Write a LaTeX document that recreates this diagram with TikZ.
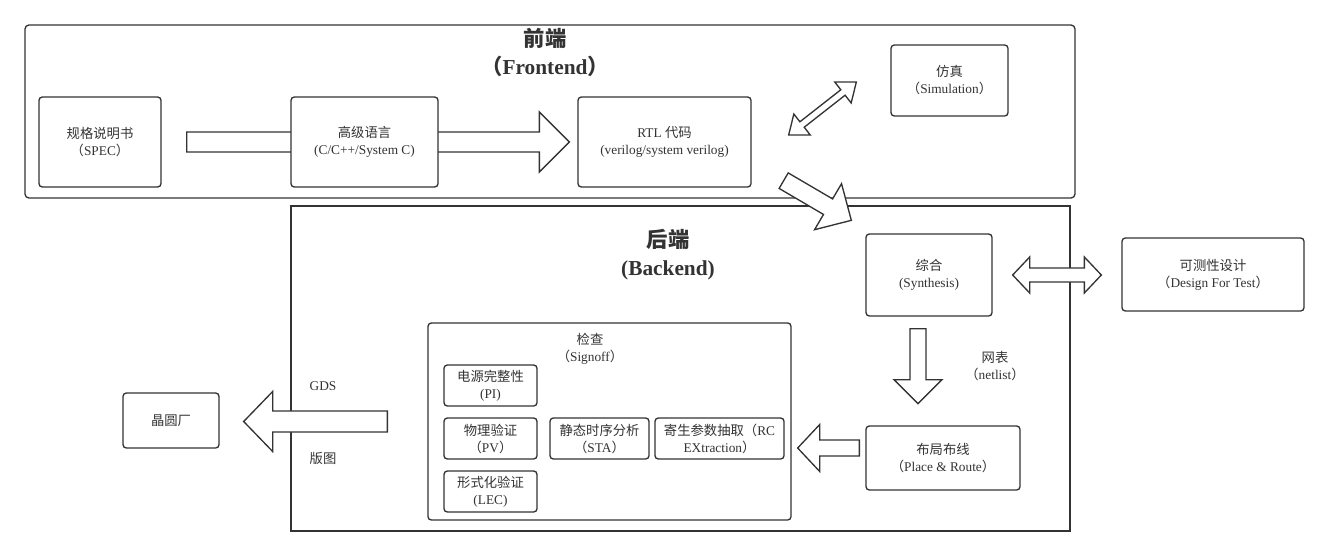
\documentclass[tikz,border=0pt]{standalone}
\usepackage{fontspec}
\setmainfont{Liberation Serif}
\newfontfamily\cjk{Noto Sans CJK SC}
\usetikzlibrary{calc}
\pgfdeclarelayer{frames}
\pgfdeclarelayer{arrows}
\pgfsetlayers{frames,arrows,main}
\definecolor{flowink}{HTML}{333333}
\definecolor{flowtext}{HTML}{333333}
\newcommand{\zh}[1]{{\cjk #1}}
\newcommand{\blockarrow}[5]{%
  \path ($(#2)!#5!(#1)$) coordinate (bahead);
  \draw[bigarrow] ($(#1)!#3!90:(#2)$) -- ($(bahead)!#3!90:(#2)$) -- ($(bahead)!#4!90:(#2)$) -- (#2)
    -- ($(bahead)!#4!-90:(#2)$) -- ($(bahead)!#3!-90:(#2)$) -- ($(#1)!#3!-90:(#2)$) -- cycle;
}
\newcommand{\dblarrow}[5]{%
  \path ($(#1)!#5!(#2)$) coordinate (dbtail) ($(#2)!#5!(#1)$) coordinate (dbhead);
  \draw[bigarrow] (#1) -- ($(dbtail)!#4!90:(#2)$) -- ($(dbtail)!#3!90:(#2)$) -- ($(dbhead)!#3!90:(#2)$)
    -- ($(dbhead)!#4!90:(#2)$) -- (#2) -- ($(dbhead)!#4!-90:(#2)$) -- ($(dbhead)!#3!-90:(#2)$)
    -- ($(dbtail)!#3!-90:(#2)$) -- ($(dbtail)!#4!-90:(#2)$) -- cycle;
}

\begin{document}
\begin{tikzpicture}[
  x=0.75pt,
  y=-0.75pt,
  every node/.style={font=\fontsize{10}{12.75}\selectfont, text=flowtext, align=center},
  frame/.style={draw=flowink, line width=1pt},
  box/.style={draw=flowink, line width=1pt, rounded corners=2.5pt, fill=white, inner sep=0pt},
  bigarrow/.style={draw=flowink, line width=1pt, fill=white, line join=miter},
  heading/.style={font=\fontsize{16}{21}\selectfont\bfseries}
]
  \useasboundingbox (0,0) rectangle (1328,557);

  \begin{pgfonlayer}{frames}
    \draw[frame, rounded corners=3pt] (25,25) rectangle (1075,198);
    \draw[frame] (291,206) rectangle (1070,531);
  \end{pgfonlayer}
  \node[heading] (fetitle) at (545,52) {\zh{前端}\\\zh{（}Frontend\zh{）}};
  \node[heading] (betitle) at (668,254.5) {\zh{后端}\\(Backend)};

  \node[box, minimum width=91.5pt, minimum height=67.5pt] (spec) at (100,142) {\zh{规格说明书}\\\zh{（}SPEC\zh{）}};
  \node[box, minimum width=110.25pt, minimum height=67.5pt] (hll) at (364.5,142) {\zh{高级语言}\\(C/C++/System C)};
  \node[box, minimum width=129.75pt, minimum height=67.5pt] (rtl) at (664.5,142) {RTL \zh{代码}\\(verilog/system verilog)};
  \node[box, minimum width=87.75pt, minimum height=53.25pt] (sim) at (949.5,80.5) {\zh{仿真}\\\zh{（}Simulation\zh{）}};
  \node[box, minimum width=94.5pt, minimum height=61.5pt] (syn) at (929,275) {\zh{综合}\\(Synthesis)};
  \node[box, minimum width=136.5pt, minimum height=54.75pt] (dft) at (1213,274.5) {\zh{可测性设计}\\\zh{（}Design For Test\zh{）}};
  \node[box, minimum width=115.5pt, minimum height=48pt] (pr) at (943,458) {\zh{布局布线}\\\zh{（}Place \& Route\zh{）}};
  \node[box, minimum width=72pt, minimum height=41.25pt] (fab) at (171,420.5) {\zh{晶圆厂}};
  \node[box, minimum width=272.25pt, minimum height=147.75pt] (signoff) at (609.5,421.5) {};

  \begin{pgfonlayer}{arrows}
    \blockarrow{$(spec.east)+(25,0)$}{$(hll.west)+(40,0)$}{7.5pt}{22.5pt}{22.5pt}
    \blockarrow{$(hll.east)+(-20,0)$}{$(rtl.west)+(-8,0)$}{7.5pt}{22.5pt}{22.5pt}
    \dblarrow{$(rtl.east)+(37,-7)$}{$(sim.west)+(-34,1.5)$}{2.6pt}{10pt}{12.75pt}
    \blockarrow{$(rtl.south east)+(32,-7)$}{$(syn.north west)+(-14,-13)$}{6.75pt}{20pt}{20.25pt}
    \dblarrow{$(syn.east)+(20,0)$}{$(dft.west |- syn.east)+(-20,0)$}{5.25pt}{13.5pt}{12.75pt}
    \blockarrow{$(syn.south)+(-11,12)$}{$(syn.south)+(-11,87)$}{6pt}{18pt}{18pt}
    \blockarrow{$(pr.west)+(-6,-10)$}{$(signoff.east |- pr.west)+(6,-10)$}{6pt}{17.6pt}{16.5pt}
    \blockarrow{$(signoff.west)+(-40,0)$}{$(fab.east |- signoff.west)+(24,0)$}{7.9pt}{22.5pt}{21.75pt}
  \end{pgfonlayer}

  \node (sotitle) at (590,348.5) {\zh{检查}\\\zh{（}Signoff\zh{）}};
  \node[box, minimum width=69.75pt, minimum height=30.75pt] (pi) at (490.5,385.5) {\zh{电源完整性}\\(PI)};
  \node[box, minimum width=69.75pt, minimum height=30.75pt] (pv) at (490.5,438.5) {\zh{物理验证}\\\zh{（}PV\zh{）}};
  \node[box, minimum width=74.25pt, minimum height=30.75pt] (sta) at (599.5,438.5) {\zh{静态时序分析}\\\zh{（}STA\zh{）}};
  \node[box, minimum width=96.75pt, minimum height=30.75pt] (rc) at (719.5,438.5) {\zh{寄生参数抽取（}RC\\EXtraction\zh{）}};
  \node[box, minimum width=69.75pt, minimum height=30.75pt] (lec) at (490.5,491.5) {\zh{形式化验证}\\(LEC)};

  \node (netlist) at (995,366) {\zh{网表}\\\zh{（}netlist\zh{）}};
  \node (gds) at (323,386) {GDS};
  \node (layout) at (323,458) {\zh{版图}};
\end{tikzpicture}
\end{document}
